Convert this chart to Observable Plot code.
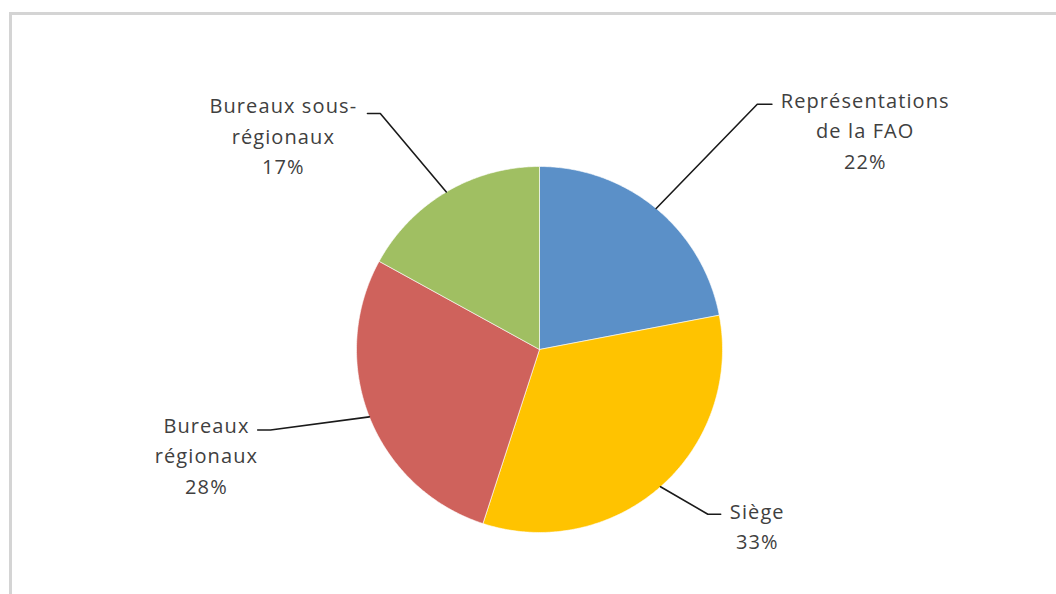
<!DOCTYPE html>
<html>
<head>
<meta charset="utf-8">
<script src="https://cdn.jsdelivr.net/npm/d3@7"></script>
<script src="https://cdn.jsdelivr.net/npm/@observablehq/plot@0.6"></script>
<style>
  html, body { margin: 0; padding: 0; background: #fff; }
  #wrap { position: relative; width: 1056px; height: 594px; overflow: hidden; }
  #border { position: absolute; left: 9px; top: 12px; width: 1100px; height: 700px;
            border-top: 3px solid #d4d4d4; border-left: 3px solid #d4d4d4; }
  #chart { position: absolute; left: 0; top: 0; }
</style>
</head>
<body>
<div id="wrap"><div id="border"></div><div id="chart"></div></div>
<script>
// ---- data ----
const categories = ["Représentations de la FAO", "Siège", "Bureaux régionaux", "Bureaux sous-régionaux"];
const labelLines = [["Représentations", "de la FAO"], ["Siège"], ["Bureaux", "régionaux"], ["Bureaux sous-", "régionaux"]];
const values = [22, 33, 28, 17];
const colors = ["#5b90c8", "#ffc300", "#cf625c", "#a0bf62"];

// ---- layout (pixels / radius units) ----
const W = 1056, H = 594, R = 183, cx = 539, cy = 349;
// label anchors & elbows in radius units relative to centre (y up)
const labelPos = [
  {elbow: [1.19, 1.34], end: [1.27, 1.34], text: [1.78, 1.207]},
  {elbow: [0.92, -0.90], end: [0.99, -0.90], text: [1.19, -0.954]},
  {elbow: [-1.47, -0.44], end: [-1.54, -0.44], text: [-1.82, -0.568]},
  {elbow: [-0.87, 1.29], end: [-0.94, 1.29], text: [-1.40, 1.177]}
];

const total = d3.sum(values);
const arcs = d3.pie().sort(null).value(d => d)(values);

// slice polygons in radius units
const slicePts = [];
arcs.forEach((a, i) => {
  const n = Math.max(2, Math.ceil((a.endAngle - a.startAngle) / 0.01));
  slicePts.push({cat: categories[i], x: 0, y: 0});
  for (let k = 0; k <= n; k++) {
    const t = a.startAngle + (a.endAngle - a.startAngle) * k / n;
    slicePts.push({cat: categories[i], x: Math.sin(t), y: Math.cos(t)});
  }
  slicePts.push({cat: categories[i], x: 0, y: 0});
});

// leader lines
const leaderPts = [];
arcs.forEach((a, i) => {
  const m = (a.startAngle + a.endAngle) / 2;
  const L = labelPos[i];
  leaderPts.push({cat: categories[i], x: Math.sin(m), y: Math.cos(m)});
  leaderPts.push({cat: categories[i], x: L.elbow[0], y: L.elbow[1]});
  leaderPts.push({cat: categories[i], x: L.end[0], y: L.end[1]});
});

const labels = arcs.map((a, i) => ({
  x: labelPos[i].text[0], y: labelPos[i].text[1],
  text: [...labelLines[i], d3.format(".0%")(values[i] / total)].join("\n")
}));

const chart = Plot.plot({
  width: W, height: H,
  margin: 0,
  style: {background: "transparent", fontFamily: "'Open Sans', sans-serif", letterSpacing: "1.1px"},
  x: {domain: [-cx / R, (W - cx) / R], range: [0, W], axis: null},
  y: {domain: [-(H - cy) / R, cy / R], range: [H, 0], axis: null},
  color: {domain: categories, range: colors},
  marks: [
    Plot.line(slicePts, {x: "x", y: "y", z: "cat", fill: "cat", stroke: "#ffffff", strokeWidth: 0.6, curve: "linear"}),
    Plot.line(leaderPts, {x: "x", y: "y", z: "cat", stroke: "#1a1a1a", strokeWidth: 1.6}),
    Plot.text(labels, {x: "x", y: "y", text: "text", fontSize: 20, lineHeight: 1.52, fill: "#404040", textAnchor: "middle"})
  ]
});
document.getElementById("chart").appendChild(chart);
</script>
</body>
</html>
